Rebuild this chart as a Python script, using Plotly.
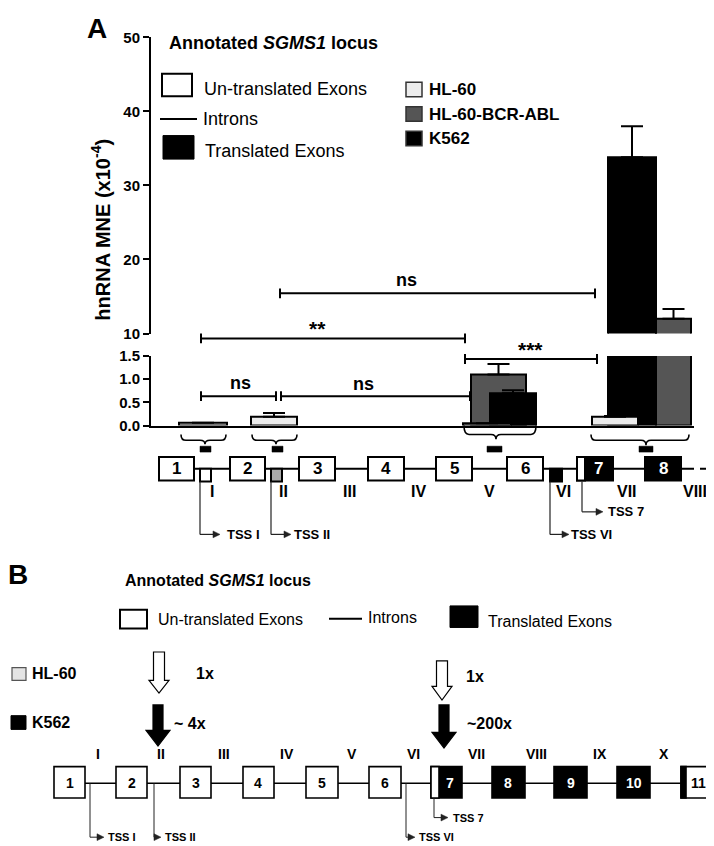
import plotly.graph_objects as go

W, H = 714, 846
FONT = "Arial, Liberation Sans, sans-serif"

# ---------------- data ----------------
groups = ["I", "II", "V", "VII"]
hl60 = [0.06, 0.19, 0.05, 0.19]
hl60_err = [0.0, 0.08, 0.0, 0.02]
bcr_abl = [None, None, 1.10, 12.0]
bcr_abl_err = [0.0, 0.0, 0.23, 1.3]
k562 = [None, None, 0.70, 33.8]
k562_err = [0.0, 0.0, 0.06, 4.2]

top_ticks = [10, 20, 30, 40, 50]
bottom_ticks = [0.0, 0.5, 1.0, 1.5]

exons_A = ["1", "2", "3", "4", "5", "6", "7", "8"]
introns_A = ["I", "II", "III", "IV", "V", "VI", "VII", "VIII"]
exons_B = ["1", "2", "3", "4", "5", "6", "7", "8", "9", "10", "11"]
introns_B = ["I", "II", "III", "IV", "V", "VI", "VII", "VIII", "IX", "X"]
tss_A = ["TSS I", "TSS II", "TSS VI", "TSS 7"]
tss_B = ["TSS I", "TSS II", "TSS VI", "TSS 7"]
fold_labels = ["1x", "1x", "~ 4x", "~200x"]
series_names = ["HL-60", "HL-60-BCR-ABL", "K562"]
series_colors = ["#ececec", "#555555", "#000000"]

# ---------------- layout helpers (pixel -> paper) ----------------
def X(px):
    return px / W

def Y(py):
    return 1 - py / H

shapes = []
annots = []

def line(x0, y0, x1, y1, w=2, color="black", dash=None):
    shapes.append(dict(type="line", xref="paper", yref="paper",
                       x0=X(x0), y0=Y(y0), x1=X(x1), y1=Y(y1),
                       line=dict(color=color, width=w, dash=dash or "solid")))

def rect(x0, y0, x1, y1, fill="white", w=2, lc="black"):
    shapes.append(dict(type="rect", xref="paper", yref="paper",
                       x0=X(x0), y0=Y(y0), x1=X(x1), y1=Y(y1),
                       fillcolor=fill, line=dict(color=lc, width=w)))

def poly(pts, fill="black", w=1, lc="black"):
    d = "M " + " L ".join(f"{X(a):.5f},{Y(b):.5f}" for a, b in pts) + " Z"
    shapes.append(dict(type="path", xref="paper", yref="paper", path=d,
                       fillcolor=fill, line=dict(color=lc, width=w)))

def text(x, y, s, size, bold=True, anchor="left", color="black", angle=0, family=FONT):
    if anchor == "left":
        x -= 4
    annots.append(dict(x=X(x), y=Y(y), xref="paper", yref="paper", text=s,
                       showarrow=False, xanchor=anchor, yanchor="middle",
                       textangle=angle,
                       font=dict(size=size, color=color, family=family,
                                 weight="bold" if bold else "normal")))

def brace(x1, x2, xc, ytop, ybody, ytip, r=5):
    p = (f"M {X(x1)},{Y(ytop)} Q {X(x1)},{Y(ybody)} {X(x1 + r)},{Y(ybody)} "
         f"L {X(xc - r)},{Y(ybody)} Q {X(xc)},{Y(ybody)} {X(xc)},{Y(ytip)} "
         f"Q {X(xc)},{Y(ybody)} {X(xc + r)},{Y(ybody)} "
         f"L {X(x2 - r)},{Y(ybody)} Q {X(x2)},{Y(ybody)} {X(x2)},{Y(ytop)}")
    shapes.append(dict(type="path", xref="paper", yref="paper", path=p,
                       line=dict(color="black", width=1.6)))

def bracket(x0, x1, y, h=5):
    line(x0, y, x1, y)
    line(x0, y - h, x0, y + h)
    line(x1, y - h, x1, y + h)

def tss(xv, ytop, ybot, xtip, label, tx, size, w=1.2):
    line(xv, ytop, xv, ybot, w=w, color="#222")
    line(xv, ybot, xtip - 5, ybot, w=w, color="#222")
    poly([(xtip, ybot), (xtip - 7, ybot - 3.5), (xtip - 7, ybot + 3.5)], fill="#222", w=0.5, lc="#222")
    text(tx, ybot, label, size)

def down_arrow(xc, ytop, yshaft, ytip, hw_shaft, hw_head, fill):
    poly([(xc - hw_shaft, ytop), (xc + hw_shaft, ytop), (xc + hw_shaft, yshaft),
          (xc + hw_head, yshaft), (xc, ytip), (xc - hw_head, yshaft),
          (xc - hw_shaft, yshaft)], fill=fill, w=1.2)

# ---------------- bar chart (panel A) ----------------
group_x = [197, 268, 488, 638]            # bar-group centres (axis units = px)
X0, X1 = 143, 686
top_dom = [Y(323), Y(20.7)]
bot_dom = [Y(417), Y(346)]

bar_geom = {
    "HL-60": dict(offset=[-26, -25, -33, -54], width=[48, 46, 48, 46]),
    "HL-60-BCR-ABL": dict(offset=[-25, -25, -25, 10], width=[40, 40, 55, 35]),
    "K562": dict(offset=[-6, -6, -6, -38], width=[46, 46, 46, 48]),
}
values = {"HL-60": (hl60, hl60_err), "HL-60-BCR-ABL": (bcr_abl, bcr_abl_err),
          "K562": (k562, k562_err)}
colors = dict(zip(series_names, series_colors))

fig = go.Figure()
for name in ["HL-60-BCR-ABL", "K562", "HL-60"]:
    vals, errs = values[name]
    for ax in ["y", "y2"]:
        fig.add_trace(go.Bar(
            x=group_x, y=vals, name=name, yaxis=ax, xaxis="x",
            offset=bar_geom[name]["offset"], width=bar_geom[name]["width"],
            marker=dict(color=colors[name], line=dict(color="black", width=2)),
            error_y=dict(type="data", array=errs, arrayminus=[0] * len(errs),
                         symmetric=False, color="black", thickness=2, width=11),
            showlegend=False, hoverinfo="skip"))

axis_common = dict(showline=True, linecolor="black", linewidth=2, ticks="outside",
                   ticklen=6, tickwidth=2, tickcolor="black", showgrid=False,
                   zeroline=False, tickfont=dict(size=15, family=FONT, weight="bold", color="black"))

fig.update_layout(
    width=W, height=H, margin=dict(l=0, r=0, t=0, b=0),
    paper_bgcolor="white", plot_bgcolor="rgba(0,0,0,0)",
    barmode="overlay", font=dict(family=FONT, color="black"),
    xaxis=dict(domain=[X(X0), X(X1)], range=[X0, X1], anchor="y2", showline=True,
               linecolor="black", linewidth=2, showticklabels=False, ticks="",
               showgrid=False, zeroline=False),
    yaxis=dict(domain=top_dom, range=[10, 50], tickvals=top_ticks, anchor="x", **axis_common),
    yaxis2=dict(domain=bot_dom, range=[0, 1.5], tickvals=bottom_ticks, tickformat=".1f",
                anchor="x", **axis_common),
)

# y axis title
text(93, 217, "hnRNA MNE (x10<sup>-4</sup>)", 20, anchor="center", angle=-90)

# panel letters and titles
text(89, 12, "A", 28, anchor="center")
text(163, 27, "Annotated <i>SGMS1</i> locus", 18)

# legend A (left)
rect(154, 58, 184, 81, fill="white", w=2)
text(198, 73, "Un-translated Exons", 18, bold=False)
line(152, 104, 189, 104, w=2)
text(197, 104, "Introns", 18, bold=False)
rect(155, 121, 186, 145, fill="black", w=1)
text(199, 137, "Translated Exons", 18, bold=False)

# legend A (right)
for i, (nm, col) in enumerate(zip(series_names, series_colors)):
    yc = [74, 99, 124][i]
    rect(398, yc - 7.5, 414, yc + 7.5, fill=col, w=1.5, lc="#333")
    text(423, yc, nm, 17)

# significance brackets
bracket(272, 587, 282)
text(398, 268, "ns", 18, anchor="center")
bracket(193, 457, 328)
text(309, 318, "**", 21, anchor="center")
bracket(457, 589, 349)
text(522, 339, "***", 21, anchor="center")
bracket(193, 268, 387)
text(232, 374, "ns", 18, anchor="center")
bracket(273, 462, 387)
text(355, 375, "ns", 18, anchor="center")

# braces + amplicons
brace(173, 218, 197, 426, 432, 436)
brace(244, 289, 268, 426, 432, 436)
brace(456, 528, 488, 417, 426, 431)
brace(583, 681, 638, 426, 432, 437)
for a, b in [(192, 203), (264, 275), (479, 494), (631, 645)]:
    rect(a, 438, b, 444, fill="black", w=0.5)

# gene diagram A
line(186, 461, 680, 461, w=2)
line(680, 461, 708, 461, w=2, dash="6px,6px")
exon_boxes_A = [(151, 186), (222, 257), (291, 327), (360, 396), (428, 464),
                (499, 535), (569, 605), (637, 673)]
for i, (a, b) in enumerate(exon_boxes_A):
    fill = "black" if i >= 6 else "white"
    rect(a, 449, b, 473, fill=fill, w=2)
    if i == 6:
        rect(a, 449, a + 8, 473, fill="white", w=2)
    text((a + b) / 2 + (3 if i == 6 else 0), 461, exons_A[i], 17,
         anchor="center", color="white" if i >= 6 else "black")
rect(192, 461, 203, 474, fill="white", w=2)
rect(263, 461, 274, 474, fill="#a8a8a8", w=2)
rect(542, 461, 554, 474, fill="black", w=2)
for lbl, xc in zip(introns_A, [204, 275, 341, 411, 481, 555, 619, 687]):
    text(xc, 484, lbl, 16, anchor="center")
tss(192, 474, 528, 212, tss_A[0], 221, 13)
tss(263, 474, 528, 283, tss_A[1], 288, 13)
tss(542, 474, 528, 561, tss_A[2], 565, 13)
tss(574, 474, 505, 595, tss_A[3], 602, 13)

# ---------------- panel B ----------------
text(10, 569, "B", 28, anchor="center")
text(119, 575, "Annotated <i>SGMS1</i> locus", 16)

rect(112, 605, 139, 624, fill="white", w=2)
text(152, 615, "Un-translated Exons", 16, bold=False)
line(321, 614, 354, 614, w=2)
text(362, 613, "Introns", 16, bold=False)
rect(442, 601, 470, 623, fill="black", w=1)
text(482, 617, "Translated Exons", 16, bold=False)

rect(4, 664, 18, 677, fill="#e4e4e4", w=1.2, lc="#555")
text(26, 670, series_names[0], 16)
rect(3, 713, 18, 727, fill="black", w=1)
text(26, 720, series_names[2], 16)

down_arrow(151, 648, 677, 690, 5.5, 10, "white")
down_arrow(434, 657, 683, 697, 5.5, 10, "white")
down_arrow(150, 702, 728, 744, 5, 12, "black")
down_arrow(436, 702, 730, 746, 5, 12, "black")
text(190, 670, fold_labels[0], 16)
text(460, 673, fold_labels[1], 16)
text(168, 721, fold_labels[2], 16)
text(461, 721, fold_labels[3], 16)

line(77, 782, 673, 782, w=1.6)
exon_boxes_B = [(46, 77), (108, 139), (172, 203), (235, 266), (298, 330), (361, 393),
                (423, 454), (484, 517), (546, 579), (609, 642), (673, 704)]
for i, (a, b) in enumerate(exon_boxes_B):
    black = 6 <= i <= 9
    rect(a, 765, b, 797, fill="black" if black else "white", w=1.6)
    if i == 6:
        rect(a, 765, a + 8, 797, fill="white", w=1.6)
    if i == 10:
        rect(a, 765, a + 5, 797, fill="black", w=1.6)
    off = 3 if i == 6 else (2 if i == 10 else 0)
    text((a + b) / 2 + off, 782, exons_B[i], 14, anchor="center",
         color="white" if black else "black")
for lbl, xc in zip(introns_B, [90, 153, 216, 279, 344, 405, 468, 528, 592, 656]):
    text(xc, 752, lbl, 14, anchor="center")
tss(82, 782, 837, 96, tss_B[0], 102, 11, w=1)
tss(146, 782, 837, 153, tss_B[1], 159, 11, w=1)
tss(398, 782, 837, 407, tss_B[2], 413, 11, w=1)
tss(426, 797, 817, 440, tss_B[3], 447, 11, w=1)

fig.update_layout(shapes=shapes, annotations=annots)
fig.write_html("out.html")
